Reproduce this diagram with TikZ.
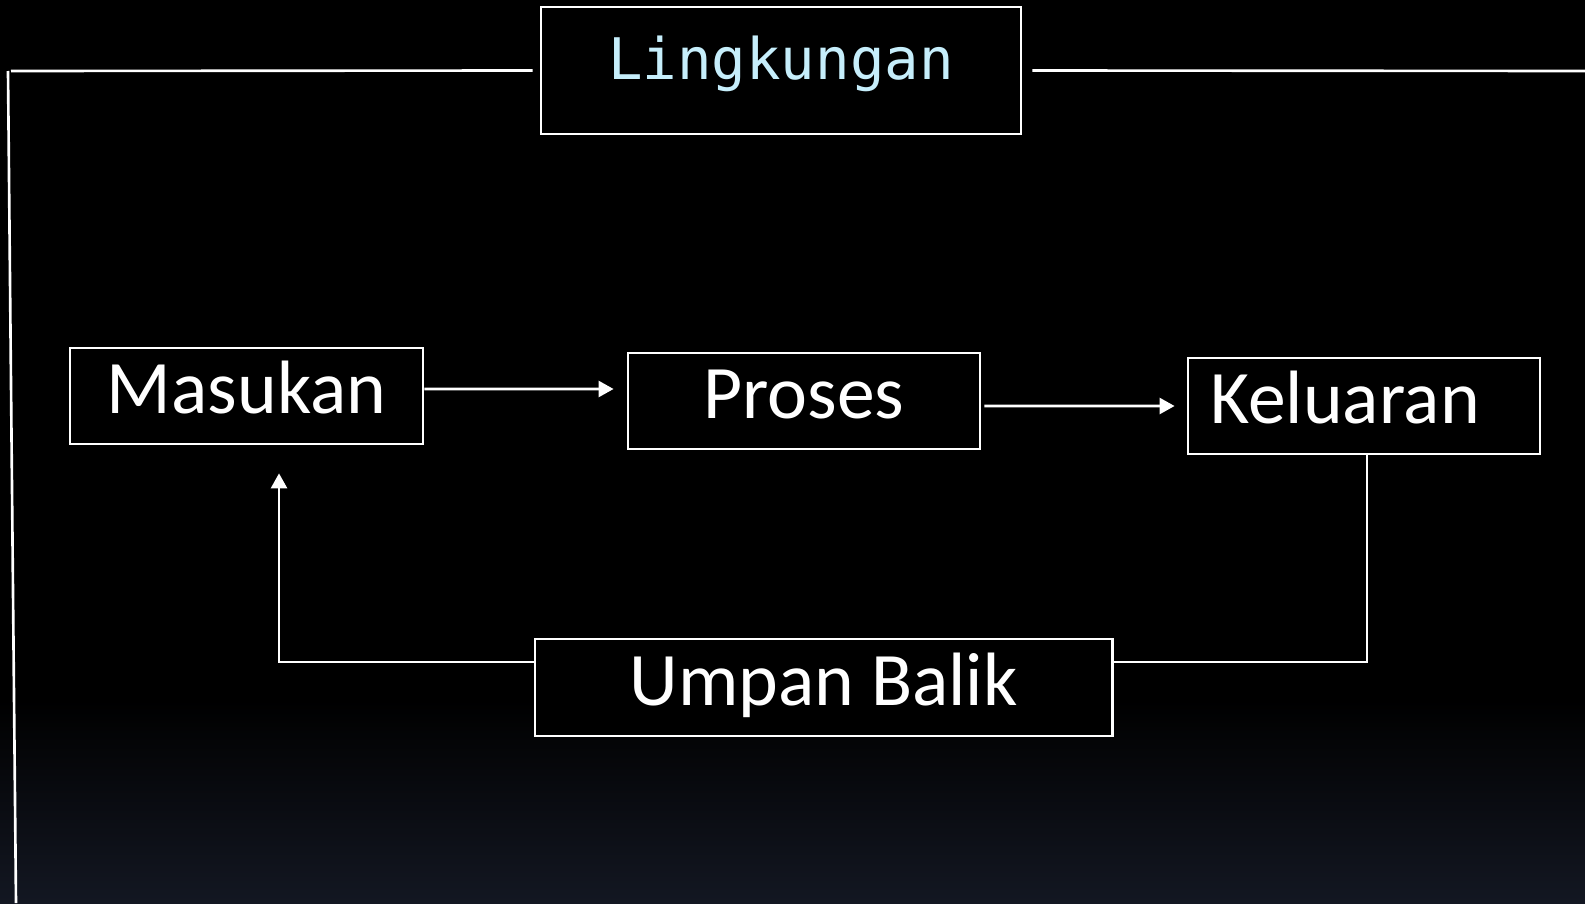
\documentclass[tikz,border=0pt]{standalone}
\usepackage{fontspec}
\setmainfont{Carlito}
\newfontfamily\lingfont{DejaVu Sans Mono}
\usetikzlibrary{arrows.meta}
\definecolor{lingblue}{RGB}{198,238,251}
\definecolor{bgbottom}{RGB}{19,23,34}
\begin{document}
\begin{tikzpicture}[x=0.01cm,y=-0.01cm,
  wl/.style={draw=white,line width=0.75pt},
  box/.style={wl,fill=black,text=white,inner sep=0pt,text height=0.35cm,text depth=0pt,font=\fontsize{21.5}{26}\selectfont},
  arr/.style={wl,-{Triangle[length=0.15cm,width=0.16cm]}}]
\useasboundingbox (0,0) rectangle (1585,903);
\fill[black] (0,0) rectangle (1585,903);
\shade[top color=black,bottom color=bgbottom] (0,700) rectangle (1585,903);
% environment
\node[wl,inner sep=0pt,minimum width=4.8cm,minimum height=1.27cm,text=lingblue,text height=0.18cm,text depth=0pt,font=\lingfont\fontsize{16.3}{19}\selectfont] (ling) at (781,70.5) {Lingkungan};
\coordinate (tlh) at (11,71);
\coordinate (tlv) at (8,71);
\coordinate (blv) at (16,903);
\coordinate (tr) at (1585,71);
\draw[wl] (tlv) -- (blv);
\draw[wl] (tlh) -- ([xshift=-0.07cm]ling.west);
\draw[wl] ([xshift=0.1cm]ling.east) -- (tr);
% boxes
\node[box,minimum width=3.53cm,minimum height=0.96cm] (mas) at (246.5,396) {Masukan};
\node[box,minimum width=3.52cm,minimum height=0.96cm] (pro) at (804,401) {Proses};
\node[box,minimum width=3.52cm,minimum height=0.96cm] (kel) at (1364,406) {Keluaran\hspace*{0.38cm}};
\node[box,minimum width=5.77cm,minimum height=0.97cm] (umb) at (823.5,687.5) {Umpan Balik};
% arrows
\draw[arr,shorten >=0.13cm] ([yshift=0.07cm]mas.east) -- ([yshift=0.12cm]pro.west);
\draw[arr,shorten <=0.03cm,shorten >=0.12cm] ([yshift=-0.05cm]pro.east) -- ([yshift=0cm]kel.west);
\draw[wl] ([xshift=0.03cm]kel.south) |- ([yshift=0.255cm]umb.east);
\draw[arr,shorten >=0.28cm] ([yshift=0.255cm]umb.west) -| ([xshift=0.325cm]mas.south);
\end{tikzpicture}
\end{document}
